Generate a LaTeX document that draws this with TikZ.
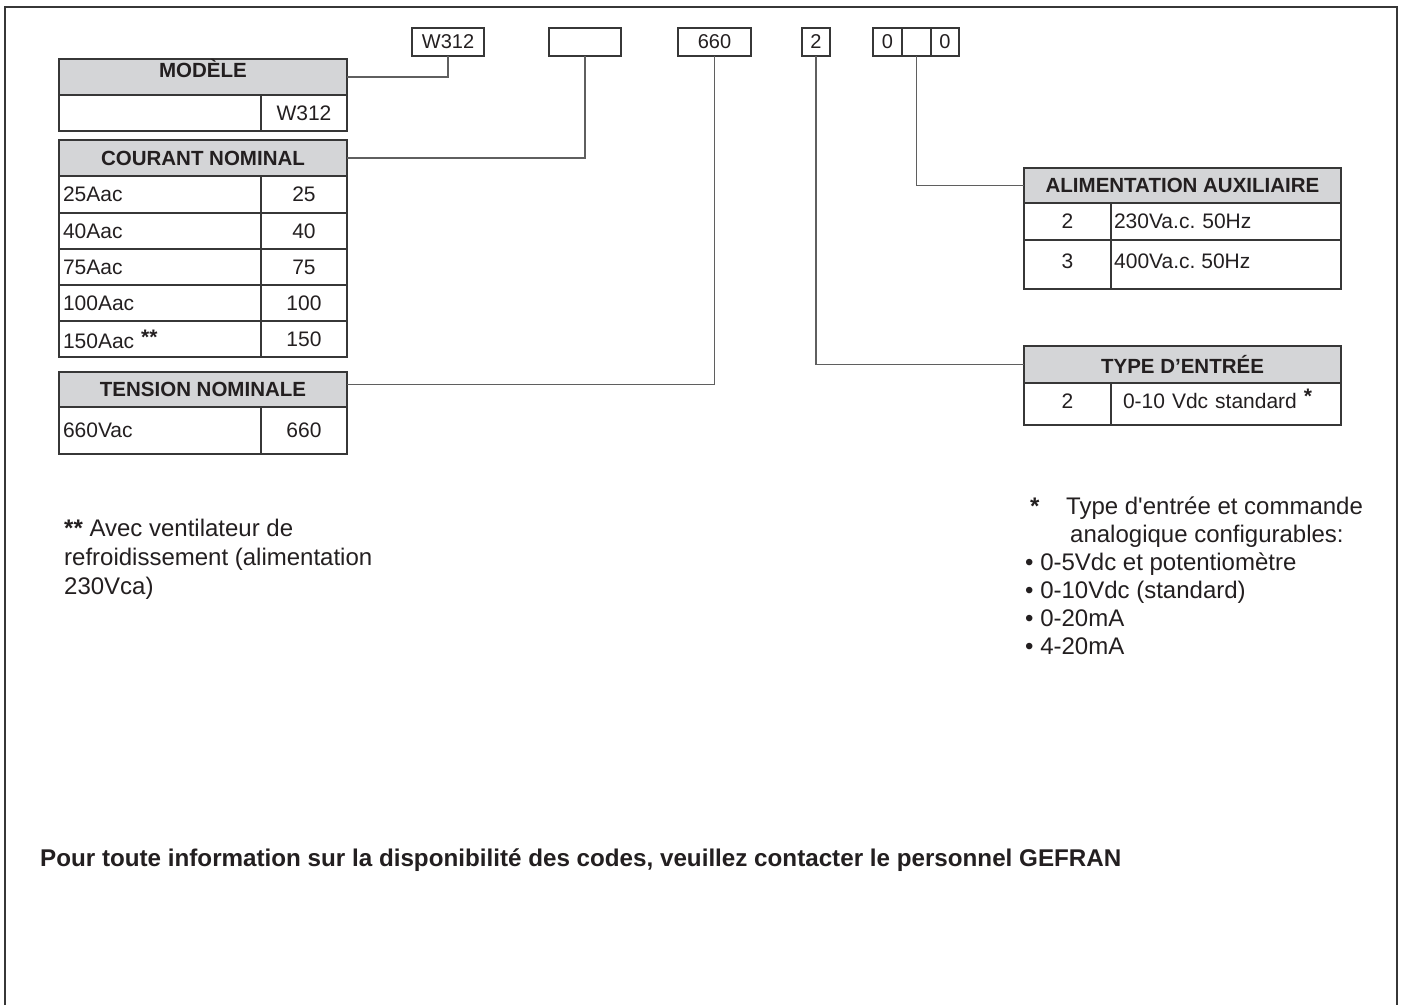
\documentclass[tikz,border=0pt]{standalone}
\usepackage{fontspec}
\setmainfont{Liberation Sans}
\definecolor{lc}{RGB}{55,55,55}
\definecolor{cc}{RGB}{95,95,95}
\definecolor{hg}{RGB}{212,213,215}
\definecolor{tc}{RGB}{35,31,32}
\tikzset{
  frame/.style={draw=lc, line width=1.5},
  hdr/.style={draw=lc, fill=hg, line width=1.1, text=tc, inner sep=0, outer sep=0, anchor=north west,
    font=\bfseries\fontsize{20.5}{24}\selectfont},
  cell/.style={draw=lc, line width=1.1, text=tc, inner sep=0, outer sep=0, anchor=north west,
    font=\fontsize{21}{25}\selectfont},
  codebox/.style={draw=lc, line width=1.1, text=tc, inner sep=0, outer sep=0, anchor=north west,
    minimum height=28, font=\fontsize{20}{24}\selectfont},
  conn/.style={draw=cc, line width=1.1},
  note/.style={text=tc, inner sep=0, anchor=base west, font=\fontsize{24}{28}\selectfont},
  foot/.style={text=tc, inner sep=0, anchor=base west, font=\bfseries\fontsize{24.2}{28}\selectfont}
}
\begin{document}
\begin{tikzpicture}[x=1pt,y=-1pt]
\useasboundingbox (0,0) rectangle (1401,1005);
% outer frame
\draw[frame] (5,1005) -- (5,7) -- (1397,7) -- (1397,1005);

% code boxes
\node[codebox, minimum width=72] (bW) at (412,28) {W312};
\node[codebox, minimum width=72] (bE) at (549,28) {};
\node[codebox, minimum width=73] (b660) at (678,28) {660};
\node[codebox, minimum width=28] (b2) at (802,28) {2};
\node[codebox, minimum width=29] (b0a) at (873,28) {0};
\node[codebox, minimum width=29] (b0m) at (902,28) {};
\node[codebox, minimum width=28] (b0b) at (931,28) {0};

% MODELE
\node[hdr, minimum width=288, minimum height=36, text height=15, text depth=15] (modH) at (59,59) {MODÈLE};
\node[cell, minimum width=202, minimum height=36] (modL) at (59,95) {};
\node[cell, minimum width=86, minimum height=36] (modR) at (261,95) {W312};

% COURANT NOMINAL
\node[hdr, minimum width=288, minimum height=36] (courH) at (59,140) {COURANT NOMINAL};
\node[cell, minimum width=202, minimum height=37, text width=194, inner xsep=4, align=left] (c1l) at (59,176) {25Aac};
\node[cell, minimum width=86, minimum height=37] (c1r) at (261,176) {25};
\node[cell, minimum width=202, minimum height=36, text width=194, inner xsep=4, align=left] (c2l) at (59,213) {40Aac};
\node[cell, minimum width=86, minimum height=36] (c2r) at (261,213) {40};
\node[cell, minimum width=202, minimum height=36, text width=194, inner xsep=4, align=left] (c3l) at (59,249) {75Aac};
\node[cell, minimum width=86, minimum height=36] (c3r) at (261,249) {75};
\node[cell, minimum width=202, minimum height=36, text width=194, inner xsep=4, align=left] (c4l) at (59,285) {100Aac};
\node[cell, minimum width=86, minimum height=36] (c4r) at (261,285) {100};
\node[cell, minimum width=202, minimum height=36, text width=194, inner xsep=4, align=left] (c5l) at (59,321) {150Aac \raisebox{4pt}{\textbf{**}}};
\node[cell, minimum width=86, minimum height=36] (c5r) at (261,321) {150};

% TENSION NOMINALE
\node[hdr, minimum width=288, minimum height=35] (tenH) at (59,372) {TENSION NOMINALE};
\node[cell, minimum width=202, minimum height=47, text width=194, inner xsep=4, align=left] (t1l) at (59,407) {660Vac};
\node[cell, minimum width=86, minimum height=47] (t1r) at (261,407) {660};

% ALIMENTATION AUXILIAIRE
\node[hdr, minimum width=317, minimum height=35] (aliH) at (1024,168) {ALIMENTATION AUXILIAIRE};
\node[cell, minimum width=87, minimum height=37] (a1l) at (1024,203) {2};
\node[cell, minimum width=230, minimum height=37, text width=224, inner xsep=3, align=left] (a1r) at (1111,203) {230Va.c.\ 50Hz};
\node[cell, minimum width=87, minimum height=49] (a2l) at (1024,240) {};
\node[cell, minimum width=230, minimum height=49] (a2r) at (1111,240) {};
\node[text=tc, inner sep=0, font=\fontsize{21}{25}\selectfont] (a2lt) at (1067.5,261) {3};
\node[text=tc, inner sep=0, anchor=west, font=\fontsize{21}{25}\selectfont] (a2rt) at (1114,261) {400Va.c.\ 50Hz};

% TYPE D'ENTREE
\node[hdr, minimum width=317, minimum height=37] (typH) at (1024,346) {TYPE D’ENTRÉE};
\node[cell, minimum width=87, minimum height=42, text height=15, text depth=6] (ty1l) at (1024,383) {2};
\node[cell, minimum width=230, minimum height=42, text width=206, inner xsep=12, align=left, text height=15, text depth=6] (ty1r) at (1111,383) {0-10 Vdc standard \raisebox{5pt}{\textbf{*}}};

% connectors
\draw[conn] (modH.east) -| (bW.south);
\draw[conn] (courH.east) -| (bE.south);
\draw[conn] ([yshift=5pt]tenH.east) -| (b660.south);
\draw[conn] (b2.south) |- (typH.west);
\draw[conn] (b0m.south) |- (aliH.west);

% notes
\node[note] (n1) at (64,536) {\textbf{**} Avec ventilateur de};
\node[note] (n2) at (64,565) {refroidissement (alimentation};
\node[note] (n3) at (64,594) {230Vca)};

\node[note] (r0) at (1030,514) {\textbf{*}};
\node[note] (r1) at (1066,514) {Type d\textquotesingle entrée et commande};
\node[note] (r2) at (1070,542) {analogique configurables:};
\node[note] (r3) at (1025,570) {• 0-5Vdc et potentiomètre};
\node[note] (r4) at (1025,598) {• 0-10Vdc (standard)};
\node[note] (r5) at (1025,626) {• 0-20mA};
\node[note] (r6) at (1025,654) {• 4-20mA};

\node[foot] (f1) at (40,866) {Pour toute information sur la disponibilité des codes, veuillez contacter le personnel GEFRAN};
\end{tikzpicture}
\end{document}
